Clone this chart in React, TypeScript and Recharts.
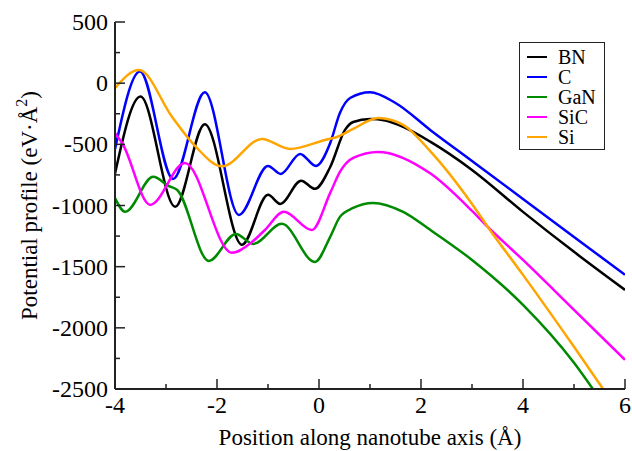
import React from 'react';
import { LineChart, Line, XAxis, YAxis } from 'recharts';

// ---- data ----
const bnX = [-4, -3.5, -2.82, -2.24, -1.51, -1.0, -0.76, -0.35, -0.08, 0.22, 0.51, 0.67, 1.0, 1.3, 1.65, 2.18, 3, 4, 5, 6];
const bnY = [-740, -110, -1010, -335, -1320, -913, -987, -797, -864, -685, -382, -317, -293, -305, -358, -478, -709, -1052, -1379, -1690];

const cX = [-4, -3.51, -2.86, -2.24, -1.57, -1.0, -0.75, -0.37, -0.06, 0.22, 0.41, 0.61, 1.0, 1.5, 2.18, 3, 4, 5, 6];
const cY = [-540, 95, -783, -74, -1077, -677, -742, -578, -677, -489, -243, -121, -74, -162, -382, -636, -946, -1257, -1567];

const ganX = [-4, -3.8, -3.25, -2.95, -2.78, -2.16, -1.63, -1.29, -0.73, -0.08, 0.22, 0.41, 0.67, 1.06, 1.65, 2.18, 3, 4, 5, 5.37];
const ganY = [-940, -1052, -766, -840, -873, -1453, -1232, -1314, -1150, -1461, -1256, -1093, -1020, -979, -1052, -1199, -1445, -1812, -2286, -2500];

const sicX = [-4, -3.86, -3.31, -2.63, -1.71, -1.31, -1.06, -0.69, -0.14, 0.22, 0.41, 0.67, 1.16, 2.18, 3, 3.31, 4, 5, 6];
const sicY = [-410, -489, -995, -652, -1387, -1297, -1200, -1052, -1200, -897, -725, -611, -562, -737, -1044, -1175, -1445, -1853, -2261];

const siX = [-4, -3.53, -2.88, -2.43, -1.9, -1.12, -0.57, 0.12, 0.35, 0.67, 1.16, 1.65, 2.18, 3, 3.31, 4, 5, 5.57];
const siY = [-40, 108, -276, -513, -680, -456, -538, -464, -440, -374, -284, -341, -555, -987, -1175, -1567, -2155, -2500];

const seriesNames = ['BN', 'C', 'GaN', 'SiC', 'Si'];
const seriesColors = ['#000000', '#0000ff', '#008a00', '#ff00ff', '#ffa500'];
const seriesXs = [bnX, cX, ganX, sicX, siX];
const seriesYs = [bnY, cY, ganY, sicY, siY];

const xTicks = [-4, -3, -2, -1, 0, 1, 2, 3, 4, 5, 6];
const xLabelTicks = [-4, -2, 0, 2, 4, 6];
const yTicks = [-2500, -2250, -2000, -1750, -1500, -1250, -1000, -750, -500, -250, 0, 250, 500];
const yLabelTicks = [-2500, -2000, -1500, -1000, -500, 0, 500];

const xTitle = 'Position along nanotube axis (Å)';
const yTitleMain = 'Potential profile (eV·Å';
const yTitleSup = '2';

// ---- styling ----
const FONT = 'Liberation Serif, DejaVu Serif, Noto Serif, serif';
const AXIS = '#222';
const MAJOR = 10;
const MINOR = 5;

const zip = (xs: number[], ys: number[]) => xs.map((x, i) => ({ x, y: ys[i] }));

const BottomTick = (props: any) => {
  const { x, y, payload } = props;
  const axisY = y - 7;
  const major = xLabelTicks.includes(payload.value);
  return (
    <g>
      <line x1={x} x2={x} y1={axisY} y2={axisY - (major ? MAJOR : MINOR)} stroke={AXIS} strokeWidth={1.5} />
      {major && (
        <text x={x} y={axisY + 24} textAnchor="middle" style={{ fontFamily: FONT, fontSize: 24 }} fill="#000">
          {payload.value}
        </text>
      )}
    </g>
  );
};

const TopTick = (props: any) => {
  const { x, y, payload } = props;
  const major = xLabelTicks.includes(payload.value);
  return <line x1={x} x2={x} y1={y} y2={y + (major ? MAJOR : MINOR)} stroke={AXIS} strokeWidth={1.5} />;
};

const LeftTick = (props: any) => {
  const { x, y, payload } = props;
  const axisX = x + 7;
  const major = yLabelTicks.includes(payload.value);
  return (
    <g>
      <line x1={axisX} x2={axisX + (major ? MAJOR : MINOR)} y1={y} y2={y} stroke={AXIS} strokeWidth={1.5} />
      {major && (
        <text x={x} y={y + 8} textAnchor="end" style={{ fontFamily: FONT, fontSize: 24 }} fill="#000">
          {payload.value}
        </text>
      )}
    </g>
  );
};

const RightTick = (props: any) => {
  const { x, y, payload } = props;
  const major = yLabelTicks.includes(payload.value);
  return <line x1={x} x2={x - (major ? MAJOR : MINOR)} y1={y} y2={y} stroke={AXIS} strokeWidth={1.5} />;
};

const XTitle = (props: any) => {
  const vb = props.viewBox || { x: 115, y: 389, width: 510, height: 62 };
  return (
    <text x={vb.x + vb.width / 2} y={vb.y + 56} textAnchor="middle" style={{ fontFamily: FONT, fontSize: 23 }} fill="#000">
      {xTitle}
    </text>
  );
};

const YTitle = (props: any) => {
  const vb = props.viewBox || { x: 0, y: 22, width: 115, height: 367 };
  const cx = vb.x + 37;
  const cy = vb.y + vb.height / 2;
  return (
    <text transform={`translate(${cx},${cy}) rotate(-90)`} x={0} y={0} textAnchor="middle" style={{ fontFamily: FONT, fontSize: 23 }} fill="#000">
      {yTitleMain}
      <tspan dy={-10} style={{ fontSize: 16 }}>{yTitleSup}</tspan>
      <tspan dy={10}>)</tspan>
    </text>
  );
};

export default function App() {
  return (
    <div style={{ position: 'absolute', left: 0, top: 0, width: 632, height: 451, background: '#fff' }}>
      <LineChart width={632} height={451} margin={{ top: 22, right: 7, bottom: 0, left: 0 }}>
        <XAxis
          xAxisId="bottom"
          type="number"
          dataKey="x"
          domain={[-4, 6]}
          ticks={xTicks}
          interval={0}
          allowDataOverflow
          height={62}
          tickSize={0}
          tickMargin={7}
          tickLine={false}
          axisLine={{ stroke: AXIS, strokeWidth: 2 }}
          tick={<BottomTick />}
          label={<XTitle />}
        />
        <XAxis
          xAxisId="top"
          orientation="top"
          type="number"
          dataKey="x"
          domain={[-4, 6]}
          ticks={xTicks}
          interval={0}
          allowDataOverflow
          height={0}
          tickSize={0}
          tickMargin={0}
          tickLine={false}
          axisLine={{ stroke: AXIS, strokeWidth: 2 }}
          tick={<TopTick />}
        />
        <YAxis
          yAxisId="left"
          type="number"
          domain={[-2500, 500]}
          ticks={yTicks}
          interval={0}
          allowDataOverflow
          width={115}
          tickSize={0}
          tickMargin={7}
          tickLine={false}
          axisLine={{ stroke: AXIS, strokeWidth: 2 }}
          tick={<LeftTick />}
          label={<YTitle />}
        />
        <YAxis
          yAxisId="right"
          orientation="right"
          type="number"
          domain={[-2500, 500]}
          ticks={yTicks}
          interval={0}
          allowDataOverflow
          width={0}
          tickSize={0}
          tickMargin={0}
          tickLine={false}
          axisLine={{ stroke: AXIS, strokeWidth: 2 }}
          tick={<RightTick />}
        />
        {seriesNames.map((name, i) => (
          <Line
            key={name}
            name={name}
            data={zip(seriesXs[i], seriesYs[i])}
            dataKey="y"
            xAxisId="bottom"
            yAxisId="left"
            type="monotone"
            stroke={seriesColors[i]}
            strokeWidth={2.5}
            dot={false}
            activeDot={false}
            isAnimationActive={false}
          />
        ))}
      </LineChart>
      <div
        style={{
          position: 'absolute',
          left: 519,
          top: 42,
          width: 86,
          height: 108,
          boxSizing: 'border-box',
          border: `1.5px solid ${AXIS}`,
          background: '#fff',
          paddingTop: 4,
        }}
      >
        {seriesNames.map((name, i) => (
          <div key={name} style={{ display: 'flex', alignItems: 'center', height: 20 }}>
            <div style={{ marginLeft: 7, width: 20, height: 2.5, background: seriesColors[i] }} />
            <span style={{ marginLeft: 11, fontFamily: FONT, fontSize: 20, lineHeight: '20px', color: '#000' }}>{name}</span>
          </div>
        ))}
      </div>
    </div>
  );
}
